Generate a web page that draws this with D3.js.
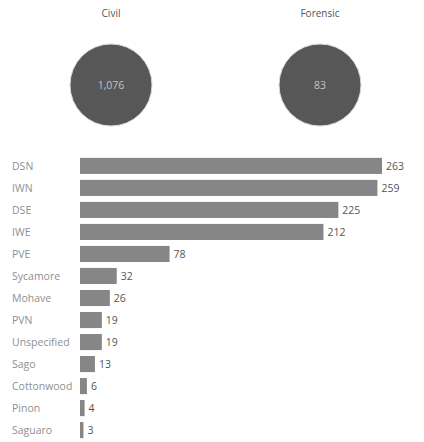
<!DOCTYPE html>
<html>
<head>
<meta charset="utf-8">
<script src="https://cdn.jsdelivr.net/npm/d3@7"></script>
<style>
  html, body { margin: 0; padding: 0; background: #fff; }
  svg { display: block; font-family: "Open Sans", "Noto Sans", sans-serif; }
</style>
</head>
<body>
<svg id="chart" width="424" height="442"></svg>
<script>
// Case type totals
const caseTypes = ["Civil", "Forensic"];
const caseTotals = [1076, 83];

// Cases per location
const locations = ["DSN", "IWN", "DSE", "IWE", "PVE", "Sycamore", "Mohave", "PVN",
                   "Unspecified", "Sago", "Cottonwood", "Pinon", "Saguaro"];
const locationCounts = [263, 259, 225, 212, 78, 32, 26, 19, 19, 13, 6, 4, 3];

const svg = d3.select("#chart");

// --- Summary circles ---
const cx = d3.scalePoint().domain(caseTypes).range([111, 320]);
const summary = svg.append("g");
const cells = summary.selectAll("g")
  .data(caseTypes.map((t, i) => ({ type: t, total: caseTotals[i] })))
  .join("g")
  .attr("transform", d => `translate(${cx(d.type)},0)`);

cells.append("text")
  .attr("y", 17)
  .attr("text-anchor", "middle")
  .attr("font-size", 10)
  .attr("fill", "#555")
  .text(d => d.type);

cells.append("circle")
  .attr("cy", 85)
  .attr("r", 41)
  .attr("fill", "#575757")
  .attr("stroke", "#d8d8d8")
  .attr("stroke-width", 1);

cells.append("text")
  .attr("y", 85)
  .attr("dy", "0.35em")
  .attr("text-anchor", "middle")
  .attr("font-size", 10.5)
  .attr("fill", "#c4c4c4")
  .text(d => d3.format(",")(d.total));

// --- Location bar chart ---
const x = d3.scaleLinear().domain([0, 263]).range([80, 382]);
const y = d3.scaleBand().domain(locations).range([155, 441]).paddingInner(0.27).paddingOuter(0.13);

const rows = svg.append("g").selectAll("g")
  .data(locations.map((l, i) => ({ loc: l, n: locationCounts[i] })))
  .join("g");

rows.append("text")
  .attr("x", 12)
  .attr("y", d => y(d.loc) + y.bandwidth() / 2)
  .attr("dy", "0.35em")
  .attr("font-size", 10.5)
  .attr("fill", "#8f8f8f")
  .text(d => d.loc);

rows.append("rect")
  .attr("x", x(0))
  .attr("y", d => y(d.loc))
  .attr("width", d => x(d.n) - x(0))
  .attr("height", y.bandwidth())
  .attr("fill", "#868686");

rows.append("text")
  .attr("x", d => x(d.n) + 4)
  .attr("y", d => y(d.loc) + y.bandwidth() / 2)
  .attr("dy", "0.35em")
  .attr("font-size", 10.5)
  .attr("fill", "#555")
  .text(d => d.n);
</script>
</body>
</html>
